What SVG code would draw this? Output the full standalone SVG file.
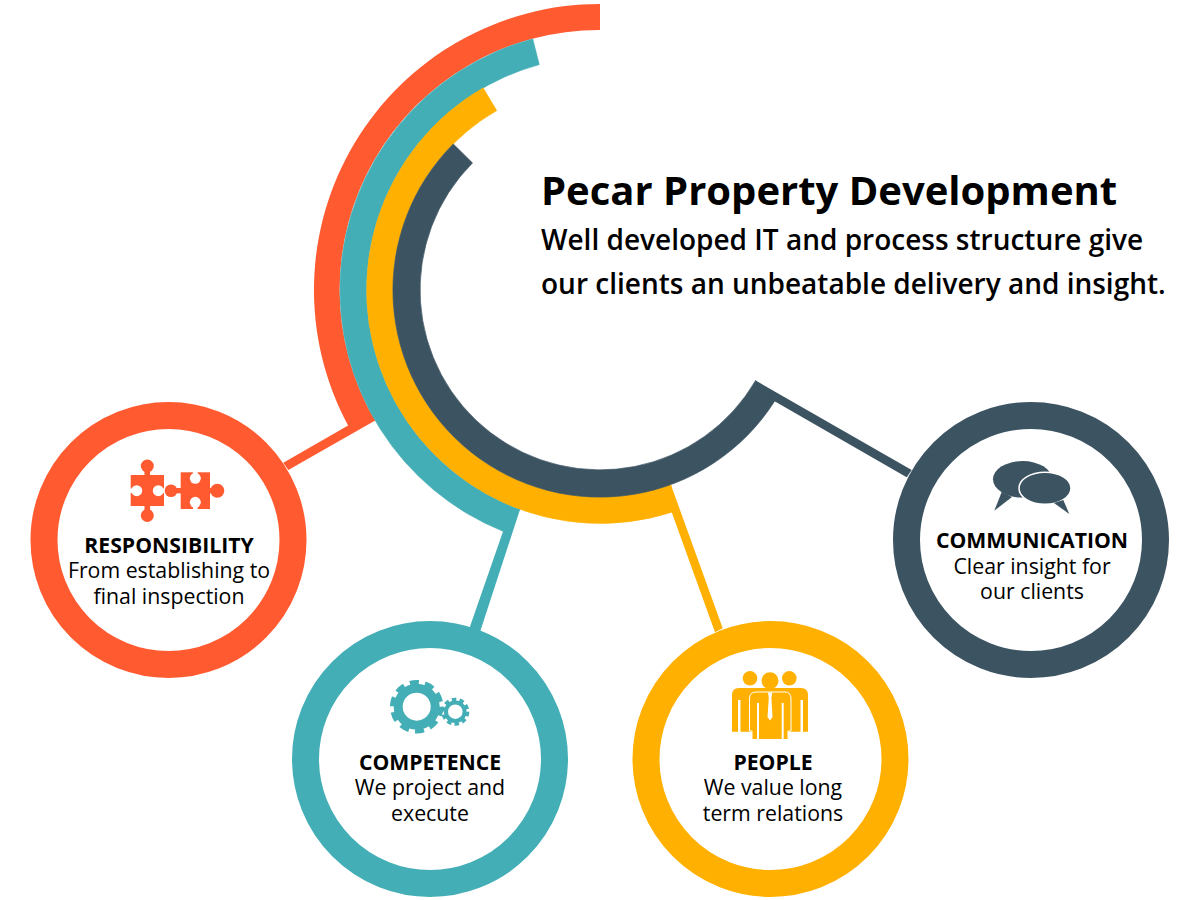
<svg xmlns="http://www.w3.org/2000/svg" width="1200" height="900" viewBox="0 0 1200 900">
<style>
text{font-family:"Open Sans","Noto Sans",sans-serif;fill:#000;text-anchor:middle}
.h{font-size:21.200px;font-weight:700}
.b{font-size:21.300px}
.t{text-anchor:start}
.ring{fill:#fff;stroke-width:27}
.red{fill:#ff5a30}.teal{fill:#43aeb5}.yel{fill:#ffb000}.navy{fill:#3c5361}
.w{fill:#fff}
.band{stroke-width:.7;stroke-linejoin:bevel}
</style>
<rect width="1200" height="900" fill="#fff"/>
<g id="arcs">
<path class="red" d="M600,4A286,286 0 0 0 348.100,425.500L375.200,420.600A259.500,259.500 0 0 1 600,30Z"/>
<path class="teal band" stroke="#43aeb5" d="M532.700,38.900A260,260 0 0 0 503.100,531.300L520,509.400A233.500,233.500 0 0 1 539.200,64.600Z"/>
<path class="yel band" stroke="#ffb000" d="M483.100,87.900A233.500,233.500 0 0 0 671.700,512.200L670.800,484.500A207,207 0 0 1 496.650,110.600Z"/>
<path class="navy band" stroke="#3c5361" d="M453.300,144A207,207 0 1 0 774.600,401.200L755.600,380.500A180,180 0 1 1 472.500,162.900Z"/>
</g>
<g id="connectors">
<polygon class="red" points="283.300,462.700 348.100,425.500 360,410 375.200,420.600 288.300,470"/>
<polygon class="teal" points="503.100,531.300 505,510 520,509.400 480,632 469.500,628"/>
<polygon class="yel" points="671.700,512.200 660,498 670.800,484.500 722.700,628.300 715,632.300"/>
<polygon class="navy" points="755.600,380.500 911.700,470 906.700,477.300 774.600,401.200 760,392"/>
</g>
<g id="responsibility">
<circle class="ring" cx="168.500" cy="540" r="124.500" stroke="#ff5a30"/>
<rect class="red" x="130.700" y="475" width="33.300" height="31"/>
<circle class="red" cx="147.300" cy="466" r="6.500"/>
<rect class="red" x="144.500" y="470" width="5.600" height="6"/>
<circle class="red" cx="147.300" cy="515.500" r="6.500"/>
<rect class="red" x="144.500" y="505" width="5.600" height="6"/>
<circle class="w" cx="136.700" cy="490.700" r="5.500"/>
<rect class="w" x="130" y="488.500" width="5" height="4.400"/>
<circle class="w" cx="158.300" cy="490.700" r="5.500"/>
<rect class="w" x="160" y="488.500" width="5" height="4.400"/>
<rect class="red" x="180.700" y="472.300" width="29.300" height="36.700"/>
<circle class="red" cx="171" cy="490.700" r="6.300"/>
<rect class="red" x="175" y="488" width="7" height="5.400"/>
<circle class="red" cx="217.300" cy="490.700" r="7"/>
<rect class="red" x="209" y="488" width="6" height="5.400"/>
<circle class="w" cx="195.300" cy="478.300" r="5.500"/>
<rect class="w" x="193" y="471.500" width="4.600" height="5"/>
<circle class="w" cx="195.300" cy="502.300" r="5.500"/>
<rect class="w" x="193" y="504" width="4.600" height="6"/>
<text class="h" x="169" y="553">RESPONSIBILITY</text>
<text class="b" x="169" y="578">From establishing to</text>
<text class="b" x="169" y="604">final inspection</text>
</g>
<g id="competence">
<circle class="ring" cx="430" cy="759" r="124.500" stroke="#43aeb5"/>
<circle cx="416.700" cy="706.700" r="18.500" fill="none" stroke="#43aeb5" stroke-width="9"/>
<circle cx="416.700" cy="706.700" r="24" fill="none" stroke="#43aeb5" stroke-width="5.500" stroke-dasharray="9 6.080"/>
<circle cx="455.300" cy="711.700" r="9.300" fill="none" stroke="#43aeb5" stroke-width="4"/>
<circle cx="455.300" cy="711.700" r="12.300" fill="none" stroke="#43aeb5" stroke-width="3.500" stroke-dasharray="4.500 3.230"/>
<text class="h" x="430" y="770">COMPETENCE</text>
<text class="b" x="430" y="795">We project and</text>
<text class="b" x="430" y="821">execute</text>
</g>
<g id="people">
<circle class="ring" cx="770.500" cy="759" r="124.500" stroke="#ffb000"/>
<circle class="yel" cx="750" cy="678.300" r="7.300"/>
<circle class="yel" cx="789.300" cy="678.300" r="7.300"/>
<path class="yel" d="M732,695Q732,688 739,688H801Q808,688 808,695V731.700H803V700H800.500V731.700H740.500V700H738V731.700H732Z"/>
<path class="yel" stroke="#fff" stroke-width="1" d="M756,692H785Q791,692 791,699V731H788V739.500H752V731H749.500V699Q749.500,692 756,692Z"/>
<circle class="yel" cx="770" cy="680.700" r="8.500"/>
<path class="w" d="M768,692.500H772.300L771.400,698 772.500,717 770,720.500 767.500,717 768.800,698Z"/>
<rect class="w" x="757" y="703" width="2" height="36"/>
<rect class="w" x="781.700" y="703" width="2" height="36"/>
<text class="h" x="773" y="770">PEOPLE</text>
<text class="b" x="773" y="795">We value long</text>
<text class="b" x="773" y="821">term relations</text>
</g>
<g id="communication">
<circle class="ring" cx="1031" cy="540" r="124.500" stroke="#3c5361"/>
<ellipse class="navy" cx="1022.500" cy="479.300" rx="29.500" ry="18.300"/>
<polygon class="navy" points="1001.700,492 994.300,510.700 1012,497"/>
<ellipse class="navy" cx="1045" cy="488.300" rx="26" ry="16" stroke="#fff" stroke-width="1.500"/>
<polygon class="navy" points="1054,503 1069.300,514 1063.300,500"/>
<text class="h" x="1032" y="548">COMMUNICATION</text>
<text class="b" x="1032" y="574">Clear insight for</text>
<text class="b" x="1032" y="599">our clients</text>
</g>
<g id="title">
<text class="t" x="541" y="205" font-size="40" font-weight="700">Pecar Property Development</text>
<text class="t" x="541" y="250" font-size="28" font-weight="600">Well developed IT and process structure give</text>
<text class="t" x="541" y="294" font-size="28" font-weight="600">our clients an unbeatable delivery and insight.</text>
</g>
</svg>
